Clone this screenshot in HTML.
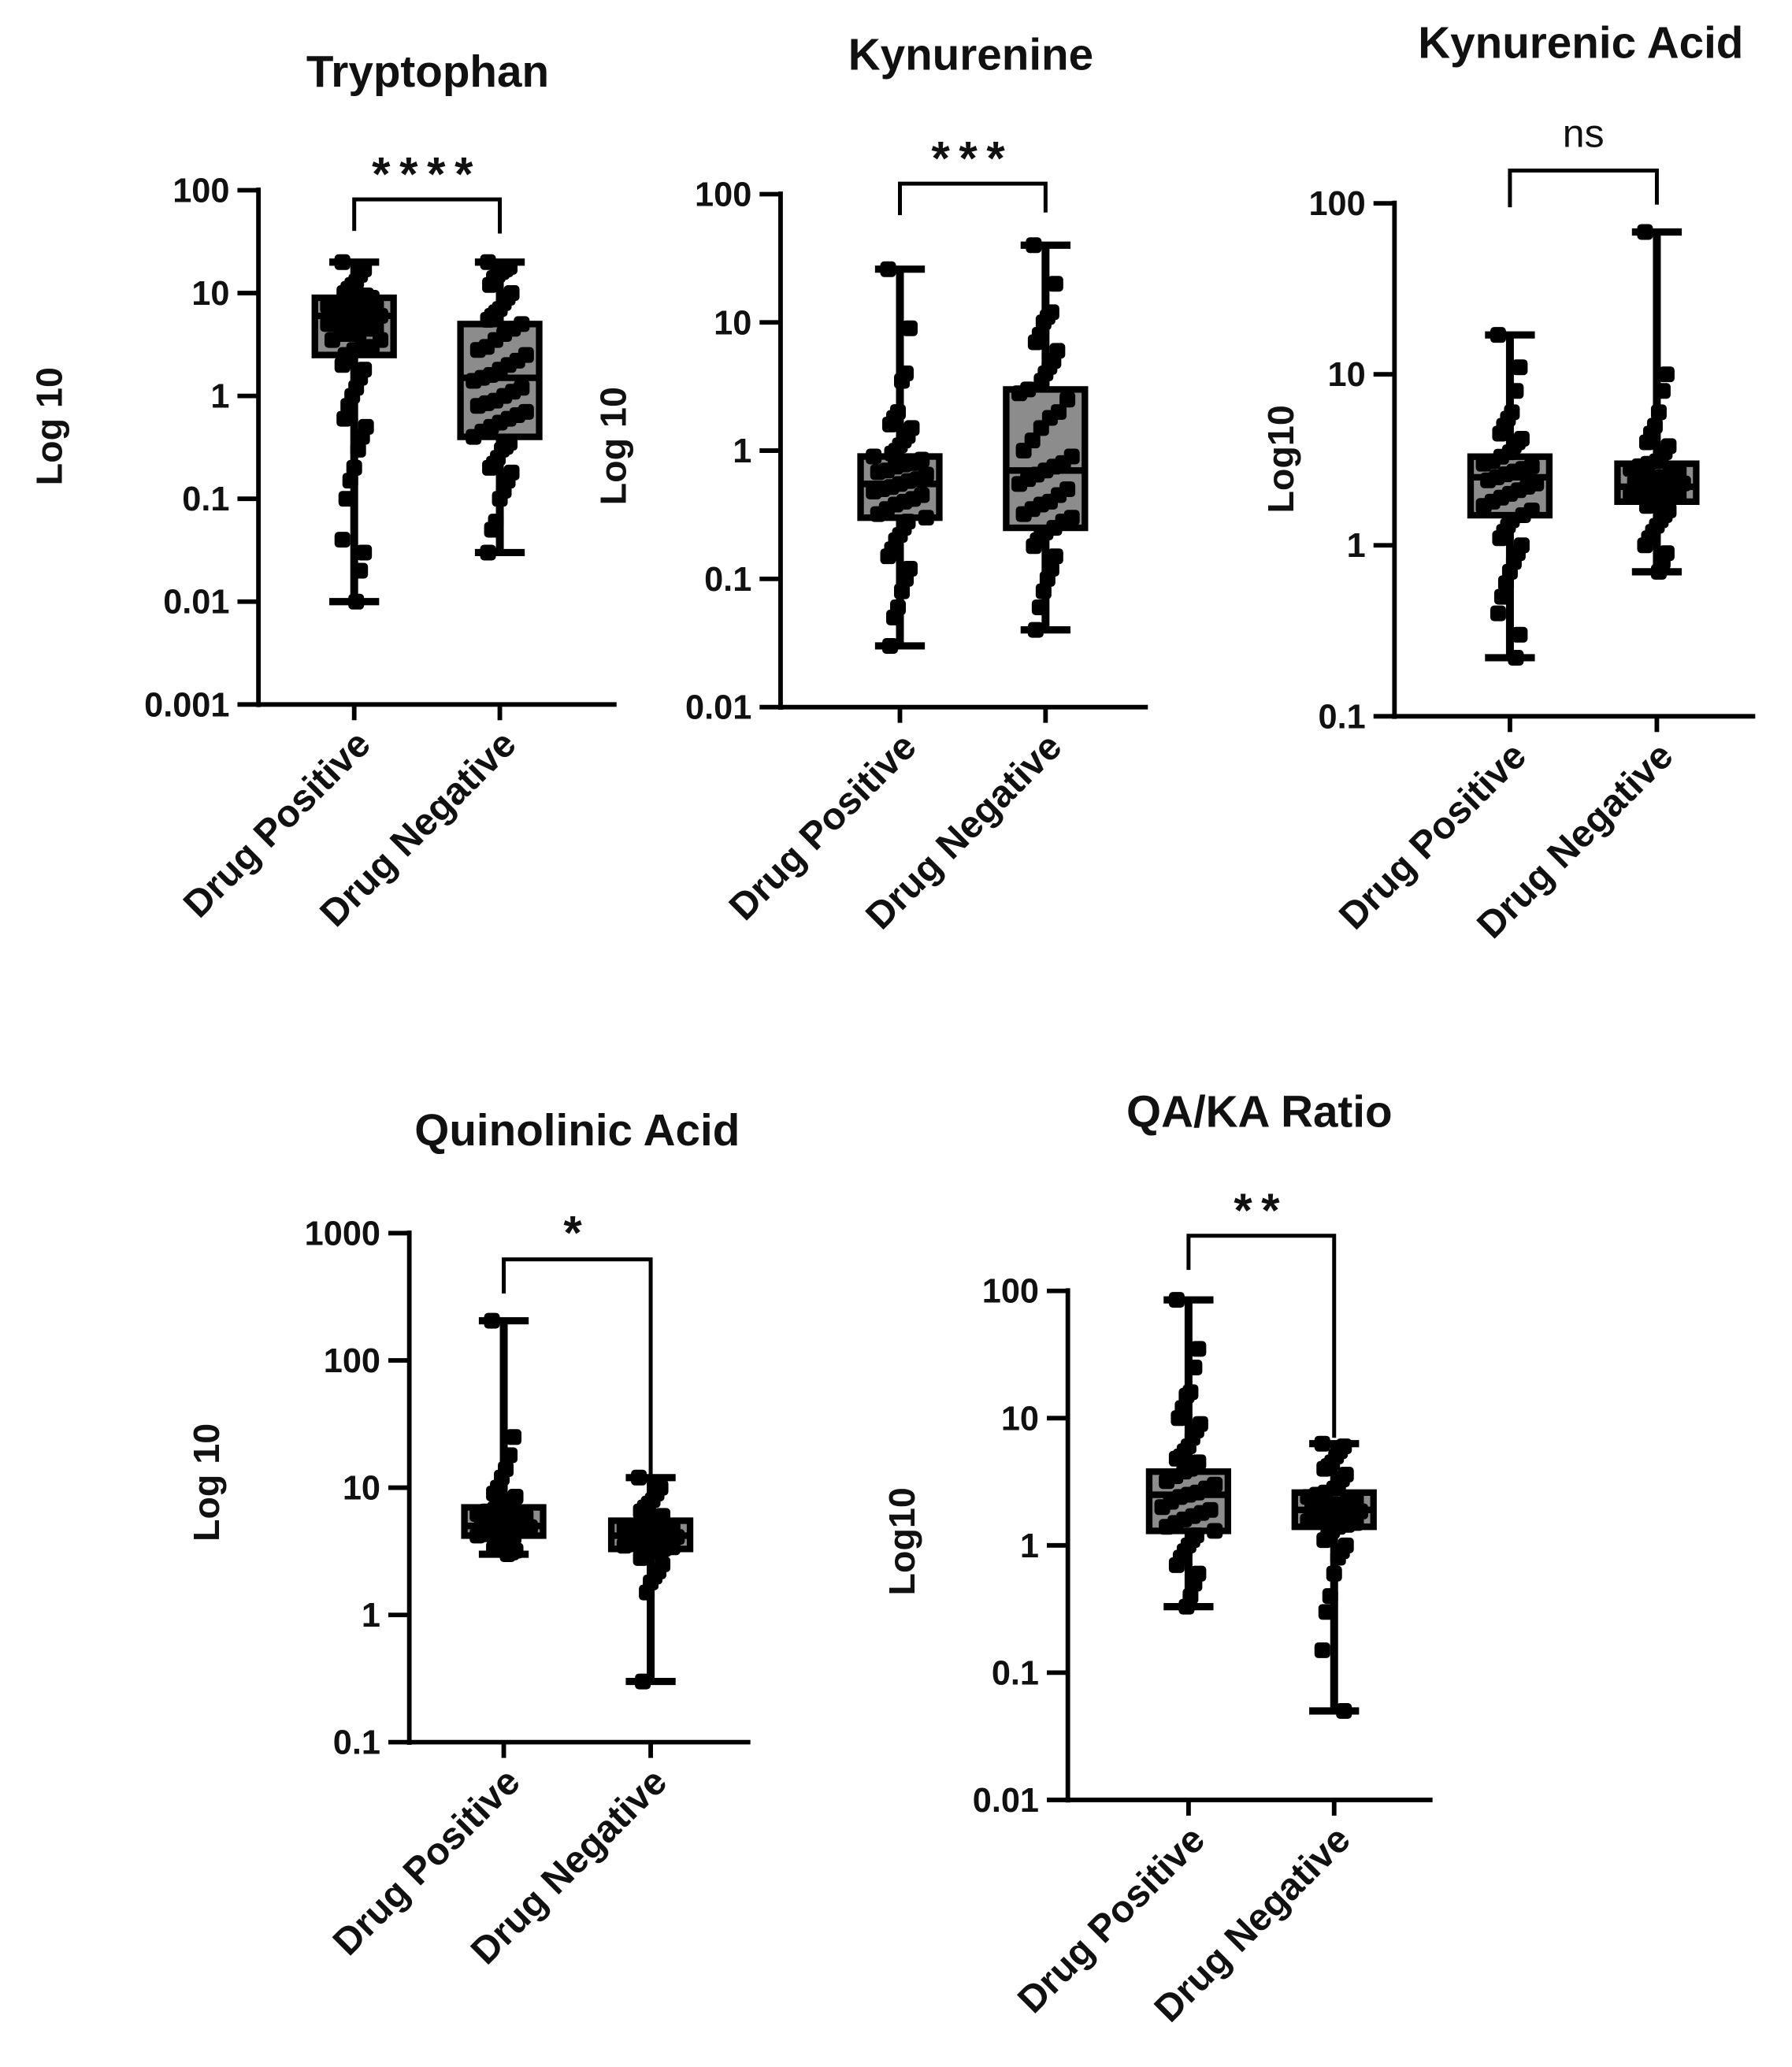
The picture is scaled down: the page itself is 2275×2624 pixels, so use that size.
<!DOCTYPE html>
<html><head><meta charset="utf-8"><style>
html,body{margin:0;padding:0;background:#fff}
svg{display:block;font-family:"Liberation Sans",Arial,sans-serif}
</style></head><body>
<svg id="fig" width="2275" height="2624" viewBox="0 0 1366 1575.6" xmlns="http://www.w3.org/2000/svg"></svg>
<script>
// ---- data ----
const categories = ["Drug Positive","Drug Negative"];
// Tryptophan
const trpPosStats = [0.01, 2.5, 6, 9, 20];   // min,q1,median,q3,max
const trpNegStats = [0.03, 0.4, 1.5, 5, 20];
const trpPos = [20,17,15,13,12,11,10,9.5,9,9,8.5,8,8,7.5,7.5,7,7,6.5,6.5,6,6,6,5.5,5.5,5,5,5,4.5,4.5,4,4,4,3.5,3.5,3,3,2.8,2.5,2.2,2,1.8,1.5,1.2,1,0.8,0.6,0.5,0.4,0.3,0.2,0.15,0.1,0.04,0.03,0.02,0.01];
const trpNeg = [20,18,17,16,15,14,12,10,9,8,7,6.5,6,5.5,5,4.5,4,3.5,3,2.8,2.5,2.2,2,1.8,1.6,1.5,1.4,1.2,1.1,1,0.9,0.85,0.8,0.7,0.65,0.6,0.55,0.5,0.45,0.4,0.35,0.32,0.3,0.25,0.22,0.2,0.18,0.15,0.12,0.1,0.06,0.05,0.03];
// Kynurenine
const kynPosStats = [0.03, 0.3, 0.55, 0.9, 26];
const kynNegStats = [0.04, 0.25, 0.7, 3, 40];
const kynPos = [26,9,4,3.5,2,1.8,1.6,1.5,1.3,1.2,1.1,1,0.95,0.9,0.85,0.8,0.78,0.75,0.7,0.68,0.65,0.6,0.58,0.55,0.52,0.5,0.48,0.45,0.42,0.4,0.38,0.35,0.32,0.3,0.28,0.25,0.22,0.2,0.17,0.15,0.12,0.1,0.08,0.06,0.05,0.03];
const kynNeg = [40,20,12,11,10,8,7,6,5,4.5,4,3.5,3,2.8,2.5,2,1.8,1.5,1.2,1,0.9,0.8,0.75,0.7,0.65,0.6,0.55,0.5,0.45,0.4,0.38,0.35,0.32,0.3,0.28,0.25,0.23,0.22,0.2,0.18,0.15,0.12,0.1,0.08,0.06,0.04];
// Kynurenic acid
const kaPosStats = [0.22, 1.5, 2.5, 3.3, 17];
const kaNegStats = [0.7, 1.8, 2.2, 3, 68];
const kaPos = [17,11,8,6,5.5,5,4.5,4.2,4,3.8,3.5,3.3,3.1,3,2.9,2.8,2.7,2.6,2.5,2.4,2.3,2.2,2.1,2,1.9,1.8,1.7,1.6,1.5,1.4,1.3,1.2,1.1,1,0.9,0.8,0.7,0.6,0.5,0.4,0.3,0.22];
const kaNeg = [68,10,8,6,5,4.5,4,3.8,3.5,3.3,3.1,3,2.9,2.8,2.7,2.6,2.5,2.45,2.4,2.35,2.3,2.25,2.2,2.15,2.1,2.05,2,1.95,1.9,1.85,1.8,1.75,1.7,1.6,1.5,1.4,1.3,1.2,1.1,1,0.9,0.8,0.7];
// Quinolinic acid
const qaPosStats = [3, 4.2, 5, 7, 205];
const qaNegStats = [0.3, 3.3, 4.2, 5.5, 12];
const qaPos = [205,25,18,14,12,10,9,8.5,8,7.5,7,6.8,6.5,6.2,6,5.8,5.5,5.3,5.1,5,4.9,4.8,4.6,4.5,4.4,4.3,4.2,4.1,4,3.8,3.6,3.5,3.3,3.2,3.1,3];
const qaNeg = [12,10,9,8,7.5,7,6.5,6,5.8,5.5,5.3,5.1,5,4.9,4.8,4.6,4.5,4.4,4.3,4.2,4.1,4,3.9,3.8,3.7,3.6,3.5,3.4,3.3,3.2,3.1,3,2.8,2.5,2.2,2,1.8,1.5,0.3];
// QA/KA ratio
const rPosStats = [0.33, 1.3, 2.5, 3.8, 85];
const rNegStats = [0.05, 1.4, 1.9, 2.6, 6.3];
const rPos = [85,35,25,16,15,12,10,9,8,7,6,5.5,5,4.8,4.5,4.2,4,3.8,3.5,3.2,3,2.8,2.6,2.5,2.4,2.2,2,1.9,1.8,1.7,1.6,1.5,1.4,1.3,1.2,1.1,1,0.9,0.8,0.7,0.6,0.5,0.4,0.33];
const rNeg = [6.3,6,5.5,5,4.5,4.2,4,3.6,3.3,3,2.8,2.6,2.5,2.4,2.3,2.2,2.1,2,1.95,1.9,1.85,1.8,1.75,1.7,1.65,1.6,1.55,1.5,1.45,1.4,1.3,1.2,1.1,1,0.9,0.8,0.6,0.4,0.3,0.15,0.05];

const NS = "http://www.w3.org/2000/svg";
const svg = document.getElementById("fig");
function mk(tag, attrs, parent){
  const e = document.createElementNS(NS, tag);
  for (const k in attrs) e.setAttribute(k, attrs[k]);
  (parent||svg).appendChild(e);
  return e;
}

function drawChart(cfg){
  const g = mk("g", {});
  
  
  const lo = Math.log10(cfg.ymin), hi = Math.log10(cfg.ymax);
  const y = v => cfg.yBottom - (Math.log10(v) - lo) / (hi - lo) * (cfg.yBottom - cfg.yTop);
  const xs = [cfg.x0, cfg.x1];
  const t = mk("text", {x: cfg.titleX, y: cfg.titleY, "text-anchor": "middle", "font-size": 34, "font-weight": "bold", fill: "#111"}, g);
  t.textContent = cfg.title;
  
  
  const ax = mk("line", {x1: cfg.axisX, y1: cfg.yTop - 2, x2: cfg.axisX, y2: cfg.yBottom + 2, stroke: "#000", "stroke-width": 3.5}, g);
  
  
  const xa = mk("line", {x1: cfg.axisX - 1.5, y1: cfg.yBottom, x2: cfg.axisEnd, y2: cfg.yBottom, stroke: "#000", "stroke-width": 3.5}, g);
  
  
  cfg.ticks.forEach(tv => {
    const yy = y(tv);
    const tl = mk("line", {x1: cfg.axisX - 16, y1: yy, x2: cfg.axisX, y2: yy, stroke: "#000", "stroke-width": 3.5}, g);
    
    
    const tx = mk("text", {x: cfg.axisX - 22, y: yy + 9, "text-anchor": "end", "font-size": 26, "font-weight": "bold", fill: "#111"}, g);
    tx.textContent = String(tv);
    
    
  });
  const yt = mk("text", {x: 0, y: 0, "text-anchor": "middle", "font-size": 28, "font-weight": "bold", fill: "#111", transform: `translate(${cfg.yTitleX},${cfg.yTitleY}) rotate(-90)`}, g);
  yt.textContent = cfg.yTitle;
  
  
  categories.forEach((c, i) => {
    const cx = xs[i];
    const tk = mk("line", {x1: cx, y1: cfg.yBottom, x2: cx, y2: cfg.yBottom + 12, stroke: "#000", "stroke-width": 3.5}, g);
    
    
    const lb = mk("text", {x: 0, y: 0, "text-anchor": "end", "font-size": 29, "font-weight": "bold", fill: "#111", transform: `translate(${cx + 14},${cfg.yBottom + 32}) rotate(-45)`}, g);
    lb.textContent = c;
    
    
  });
  [cfg.posStats, cfg.negStats].forEach((s, i) => {
    const cx = xs[i], hw = 30;
    const bg = mk("g", {}, g);
    
    
    mk("line", {x1: cx, y1: y(s[0]), x2: cx, y2: y(s[4]), stroke: "#000", "stroke-width": 6}, bg);
    mk("line", {x1: cx - 19, y1: y(s[0]), x2: cx + 19, y2: y(s[0]), stroke: "#000", "stroke-width": 5.5}, bg);
    mk("line", {x1: cx - 19, y1: y(s[4]), x2: cx + 19, y2: y(s[4]), stroke: "#000", "stroke-width": 5.5}, bg);
    mk("rect", {x: cx - hw, y: y(s[3]), width: 2 * hw, height: y(s[1]) - y(s[3]), fill: "#8c8c8c", stroke: "#000", "stroke-width": 5}, bg);
    mk("line", {x1: cx - hw, y1: y(s[2]), x2: cx + hw, y2: y(s[2]), stroke: "#000", "stroke-width": 5}, bg);
  });
  [cfg.pos, cfg.neg].forEach((arr, i) => {
    const cx = xs[i];
    const s = i === 0 ? cfg.posStats : cfg.negStats;
    arr.forEach((v, j) => {
      const inBox = v >= s[1] && v <= s[3];
      const spread = inBox ? 20 : 9;
      const off = (((j * 37) % 13) - 6) / 6 * spread;
      const d = mk("rect", {x: cx + off - 6, y: y(v) - 6, width: 12, height: 12, rx: 3, fill: "#000"}, g);
      
      
    });
  });
  const bk = mk("path", {d: `M${xs[0]},${cfg.bLeft} V${cfg.bY} H${xs[1]} V${cfg.bRight}`, fill: "none", stroke: "#000", "stroke-width": 3}, g);
  
  
  const sg = mk("text", {x: (xs[0] + xs[1]) / 2, y: cfg.sigY, "text-anchor": "middle", "font-size": cfg.sig === "ns" ? 30 : 36, "font-weight": cfg.sig === "ns" ? "normal" : "bold", "letter-spacing": cfg.sig === "ns" ? 0 : 7, fill: "#111"}, g);
  sg.textContent = cfg.sig;
  
  
}

drawChart({name:"chart-tryptophan", title:"Tryptophan", titleX:326, titleY:66, axisX:197, axisEnd:470, yTop:145, yBottom:537, ymin:0.001, ymax:100, ticks:[100,10,1,0.1,0.01,0.001], yTitle:"Log 10", yTitleX:47, yTitleY:325, x0:270, x1:381, posStats:trpPosStats, negStats:trpNegStats, pos:trpPos, neg:trpNeg, bY:152, bLeft:176, bRight:178, sig:"****", sigY:145});
drawChart({name:"chart-kynurenine", title:"Kynurenine", titleX:740, titleY:53, axisX:595, axisEnd:875, yTop:148, yBottom:539, ymin:0.01, ymax:100, ticks:[100,10,1,0.1,0.01], yTitle:"Log 10", yTitleX:477, yTitleY:340, x0:686, x1:797, posStats:kynPosStats, negStats:kynNegStats, pos:kynPos, neg:kynNeg, bY:140, bLeft:164, bRight:162, sig:"***", sigY:133});
drawChart({name:"chart-kynurenic-acid", title:"Kynurenic Acid", titleX:1205, titleY:44, axisX:1063, axisEnd:1338, yTop:155, yBottom:546, ymin:0.1, ymax:100, ticks:[100,10,1,0.1], yTitle:"Log10", yTitleX:986, yTitleY:350, x0:1151, x1:1263, posStats:kaPosStats, negStats:kaNegStats, pos:kaPos, neg:kaNeg, bY:130, bLeft:158, bRight:156, sig:"ns", sigY:112});
drawChart({name:"chart-quinolinic-acid", title:"Quinolinic Acid", titleX:440, titleY:873, axisX:312, axisEnd:572, yTop:940, yBottom:1328, ymin:0.1, ymax:1000, ticks:[1000,100,10,1,0.1], yTitle:"Log 10", yTitleX:167, yTitleY:1130, x0:384, x1:496, posStats:qaPosStats, negStats:qaNegStats, pos:qaPos, neg:qaNeg, bY:960, bLeft:986, bRight:1128, sig:"*", sigY:952});
drawChart({name:"chart-qa-ka-ratio", title:"QA/KA Ratio", titleX:960, titleY:859, axisX:814, axisEnd:1092, yTop:984, yBottom:1372, ymin:0.01, ymax:100, ticks:[100,10,1,0.1,0.01], yTitle:"Log10", yTitleX:697, yTitleY:1175, x0:906, x1:1017, posStats:rPosStats, negStats:rNegStats, pos:rPos, neg:rNeg, bY:942, bLeft:968, bRight:1096, sig:"**", sigY:935});
</script>
</body></html>
